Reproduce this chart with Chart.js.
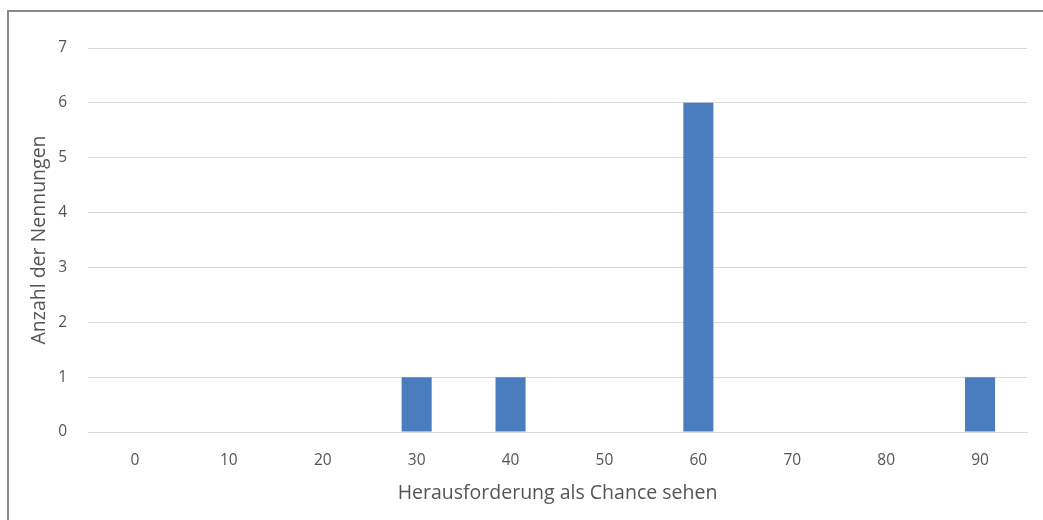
<!DOCTYPE html>
<html>
<head>
<meta charset="utf-8">
<script src="https://cdn.jsdelivr.net/npm/chart.js@4"></script>
<style>
  html, body { margin: 0; padding: 0; background: #fff; }
  #wrap { position: relative; width: 1043px; height: 520px; overflow: hidden; }
  #frame { position: absolute; left: 7px; top: 10px; width: 1100px; height: 600px;
           border-left: 2px solid #8a8a8a; border-top: 2px solid #8a8a8a; box-sizing: border-box; }
  canvas { position: absolute; left: 0; top: 0; }
</style>
</head>
<body>
<div id="wrap">
  <div id="frame"></div>
  <canvas id="c" width="1043" height="520"></canvas>
</div>
<script>
// Bewertung der Herausforderung als Chance (0–90) und Anzahl der Nennungen
const categories = ['0', '10', '20', '30', '40', '50', '60', '70', '80', '90'];
const nennungen = [0, 0, 0, 1, 1, 0, 6, 0, 0, 1];
const yTicks = [0, 1, 2, 3, 4, 5, 6, 7];

const textColor = '#555555';
const gridColor = '#d9d9d9';
const fontFamily = '"Open Sans", "Liberation Sans", sans-serif';

new Chart(document.getElementById('c'), {
  type: 'bar',
  data: {
    labels: categories,
    datasets: [{
      label: 'Anzahl der Nennungen',
      data: nennungen,
      backgroundColor: '#4a7dbf',
      barPercentage: 0.32,
      categoryPercentage: 1.0
    }]
  },
  options: {
    responsive: false,
    animation: false,
    devicePixelRatio: 1,
    layout: { padding: { left: 28, right: 16, top: 48, bottom: 15 } },
    plugins: { legend: { display: false }, tooltip: { enabled: false } },
    scales: {
      x: {
        grid: { display: false, drawTicks: false },
        border: { display: true, color: gridColor, width: 1 },
        ticks: { color: textColor, padding: 19, font: { family: fontFamily, size: 15.5 } },
        title: {
          display: true, text: 'Herausforderung als Chance sehen',
          color: textColor, padding: 0, font: { family: fontFamily, size: 19.5 }
        },
        afterFit: s => { s.height = 73; }
      },
      y: {
        min: 0, max: 7,
        afterBuildTicks: s => { s.ticks = yTicks.map(v => ({ value: v })); },
        grid: { color: gridColor, drawTicks: false },
        border: { display: false },
        ticks: { color: textColor, padding: 21, font: { family: fontFamily, size: 15.5 } },
        title: {
          display: true, text: 'Anzahl der Nennungen',
          color: textColor, padding: 0, font: { family: fontFamily, size: 19.5 }
        },
        afterFit: s => { s.width = 60; }
      }
    }
  }
});
</script>
</body>
</html>
